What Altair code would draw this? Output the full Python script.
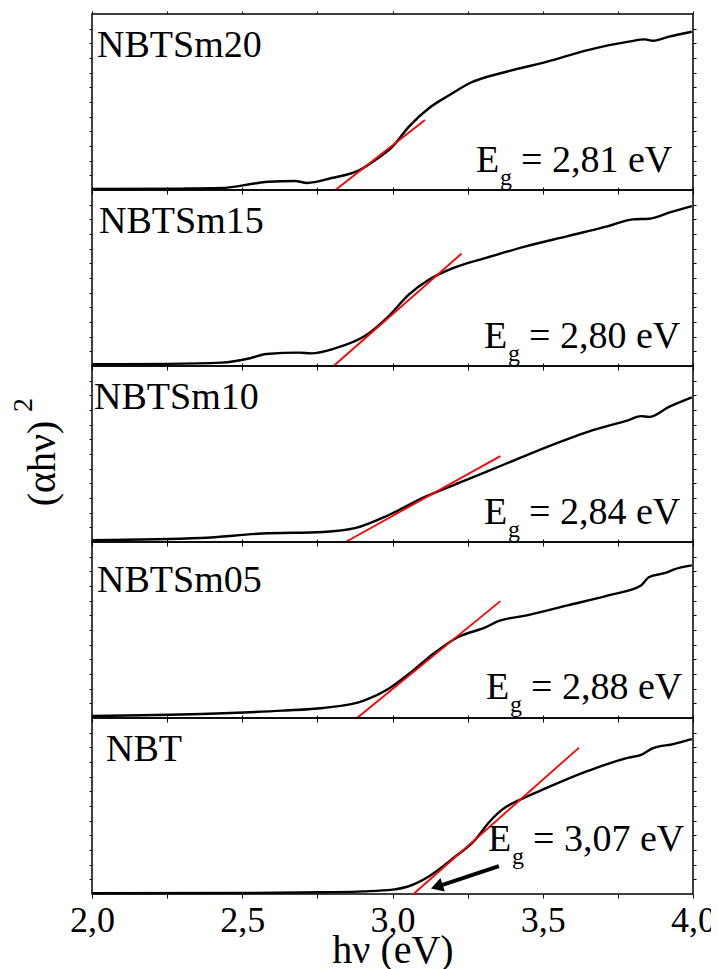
import altair as alt
import pandas as pd

FONT = "Times New Roman, Liberation Serif, DejaVu Serif, serif"

samples = ["NBTSm20", "NBTSm15", "NBTSm10", "NBTSm05", "NBT"]
eg_values = ["2,81", "2,80", "2,84", "2,88", "3,07"]

e_sm20 = [2.0, 2.3, 2.431, 2.552, 2.586, 2.676, 2.716, 2.797, 2.892, 2.946, 3.0, 3.054, 3.122, 3.19, 3.258, 3.379, 3.515, 3.65, 3.786, 3.84, 3.867, 3.92, 3.996]
v_sm20 = [0.006, 0.008, 0.011, 0.040, 0.047, 0.051, 0.040, 0.068, 0.114, 0.174, 0.246, 0.359, 0.466, 0.540, 0.608, 0.672, 0.729, 0.795, 0.843, 0.856, 0.848, 0.871, 0.899]

e_sm15 = [2.0, 2.25, 2.431, 2.526, 2.58, 2.689, 2.729, 2.81, 2.905, 2.986, 3.054, 3.122, 3.203, 3.311, 3.447, 3.583, 3.718, 3.799, 3.854, 3.92, 3.996]
v_sm15 = [0.010, 0.012, 0.019, 0.044, 0.068, 0.076, 0.072, 0.101, 0.167, 0.281, 0.405, 0.491, 0.557, 0.614, 0.681, 0.738, 0.795, 0.833, 0.837, 0.871, 0.909]

e_sm10 = [2.0, 2.363, 2.566, 2.769, 2.878, 2.986, 3.108, 3.244, 3.379, 3.515, 3.65, 3.786, 3.827, 3.854, 3.92, 3.996]
v_sm10 = [0.010, 0.023, 0.048, 0.057, 0.080, 0.152, 0.256, 0.351, 0.446, 0.541, 0.626, 0.693, 0.715, 0.711, 0.768, 0.822]

e_sm05 = [2.0, 2.363, 2.634, 2.769, 2.905, 2.986, 3.068, 3.135, 3.217, 3.311, 3.352, 3.447, 3.583, 3.718, 3.827, 3.854, 3.908, 3.935, 3.996]
v_sm05 = [0.011, 0.023, 0.042, 0.057, 0.099, 0.165, 0.269, 0.364, 0.459, 0.516, 0.550, 0.583, 0.640, 0.697, 0.753, 0.801, 0.824, 0.843, 0.867]

e_nbt = [2.0, 2.499, 2.769, 2.905, 3.0, 3.054, 3.122, 3.203, 3.271, 3.325, 3.366, 3.42, 3.515, 3.65, 3.786, 3.827, 3.867, 3.935, 3.996]
v_nbt = [0.004, 0.006, 0.010, 0.015, 0.025, 0.044, 0.101, 0.205, 0.300, 0.415, 0.481, 0.532, 0.604, 0.699, 0.775, 0.790, 0.829, 0.852, 0.880]

energies = [e_sm20, e_sm15, e_sm10, e_sm05, e_nbt]
values = [v_sm20, v_sm15, v_sm10, v_sm05, v_nbt]

# tangent (Tauc) lines: start at Eg on the baseline, end point
tan_e0 = [2.81, 2.804, 2.844, 2.882, 3.070]
tan_e1 = [3.108, 3.23, 3.359, 3.359, 3.621]
tan_v1 = [0.398, 0.639, 0.488, 0.664, 0.832]

# arrow in NBT panel (tail -> head)
arrow_e = [3.354, 3.154]
arrow_v = [0.158, 0.045]

x_ticks = [2.0, 2.25, 2.5, 2.75, 3.0, 3.25, 3.5, 3.75, 4.0]
y_ticks = [i / 12 for i in range(1, 12)]

W, H = 601, 176
label_x = [5, 7, 2, 5, 14]
label_y = [43, 43, 43, 50, 43]
eg_x = [384, 392, 392, 394, 396]
eg_y = [158, 158, 158, 157, 133]

xscale = alt.Scale(domain=[2, 4], nice=False, zero=False)
yscale = alt.Scale(domain=[0, 1], nice=False, zero=False)

panels = []
n = len(samples)
for i in range(n):
    last = i == n - 1
    df = pd.DataFrame({"E": energies[i], "v": values[i]})
    tan = pd.DataFrame({"E": [tan_e0[i], tan_e1[i]], "v": [0.0, tan_v1[i]]})

    if last:
        xaxis = alt.Axis(
            orient="bottom", values=x_ticks, tickSize=4, domain=False, grid=False,
            labelExpr="datum.value % 0.5 == 0 ? replace(format(datum.value, '.1f'), '.', ',') : ''",
            labelFontSize=36, labelPadding=5, labelFlush=False, labelOverlap=False,
            title="hν (eV)", titleFontSize=40, titlePadding=-8,
        )
    else:
        xaxis = alt.Axis(orient="bottom", values=x_ticks, tickSize=4, domain=False,
                         grid=False, labels=False, title=None)
    if i == 2:
        yaxis = alt.Axis(orient="left", values=y_ticks, tickSize=3, domain=False, grid=False,
                         labels=False, title="(αhν)", titleFontSize=40, titlePadding=26,
                         titleY=97)
    else:
        yaxis = alt.Axis(orient="left", values=y_ticks, tickSize=3, domain=False, grid=False,
                         labels=False, title=None)

    curve = alt.Chart(df).mark_line(color="black", strokeWidth=2.4, interpolate="monotone").encode(
        x=alt.X("E:Q", scale=xscale, axis=xaxis),
        y=alt.Y("v:Q", scale=yscale, axis=yaxis),
    )
    tangent = alt.Chart(tan).mark_line(color="#ff0000", strokeWidth=1.8).encode(
        x=alt.X("E:Q", scale=xscale,
                axis=alt.Axis(orient="top", values=x_ticks, tickSize=3, domain=False,
                              grid=False, labels=False, title=None)),
        y=alt.Y("v:Q", scale=yscale,
                axis=alt.Axis(orient="right", values=y_ticks, tickSize=3, domain=False,
                              grid=False, labels=False, title=None)),
    )
    lab = alt.Chart(pd.DataFrame({"t": [samples[i]]})).mark_text(
        align="left", baseline="alphabetic", font=FONT, fontSize=38, color="black"
    ).encode(x=alt.value(label_x[i]), y=alt.value(label_y[i]), text="t:N")
    e_txt = alt.Chart(pd.DataFrame({"t": ["E"]})).mark_text(
        align="left", baseline="alphabetic", font=FONT, fontSize=38, color="black"
    ).encode(x=alt.value(eg_x[i]), y=alt.value(eg_y[i]), text="t:N")
    g_txt = alt.Chart(pd.DataFrame({"t": ["g"]})).mark_text(
        align="left", baseline="alphabetic", font=FONT, fontSize=24, color="black"
    ).encode(x=alt.value(eg_x[i] + 24), y=alt.value(eg_y[i] + 13), text="t:N")
    v_txt = alt.Chart(pd.DataFrame({"t": ["= " + eg_values[i] + " eV"]})).mark_text(
        align="left", baseline="alphabetic", font=FONT, fontSize=38, color="black"
    ).encode(x=alt.value(eg_x[i] + 45), y=alt.value(eg_y[i]), text="t:N")

    layers = [curve, tangent, lab, e_txt, g_txt, v_txt]
    if i == 2:
        sup = alt.Chart(pd.DataFrame({"t": ["2"]})).mark_text(
            align="center", baseline="middle", font=FONT, fontSize=28, color="black",
            angle=270
        ).encode(x=alt.value(-68), y=alt.value(39), text="t:N")
        layers.append(sup)
    if last:
        arr = pd.DataFrame({"e0": [arrow_e[0]], "v0": [arrow_v[0]],
                            "e1": [arrow_e[1]], "v1": [arrow_v[1]]})
        shaft = alt.Chart(arr).mark_rule(color="black", strokeWidth=4).encode(
            x=alt.X("e0:Q", scale=xscale, axis=None),
            y=alt.Y("v0:Q", scale=yscale, axis=None),
            x2="e1:Q", y2="v1:Q")
        head = alt.Chart(arr).mark_point(shape="triangle", filled=True, size=200,
                                         angle=252, color="black", opacity=1).encode(
            x=alt.X("e1:Q", scale=xscale, axis=None),
            y=alt.Y("v1:Q", scale=yscale, axis=None))
        layers += [shaft, head]

    panel = alt.layer(*layers).resolve_axis(x="independent", y="independent").properties(
        width=W, height=H)
    panels.append(panel)

chart = alt.vconcat(*panels, spacing=0, bounds="flush").properties(
    padding={"left": 1, "top": 1, "right": -6, "bottom": 0}
).configure_axis(
    labelFont=FONT, titleFont=FONT, tickColor="black", labelColor="black",
    titleColor="black", titleFontWeight="normal", tickWidth=1,
).configure_view(stroke="black", strokeWidth=1.5)

chart.save("out.html", embed_options={"renderer": "svg", "actions": False})
